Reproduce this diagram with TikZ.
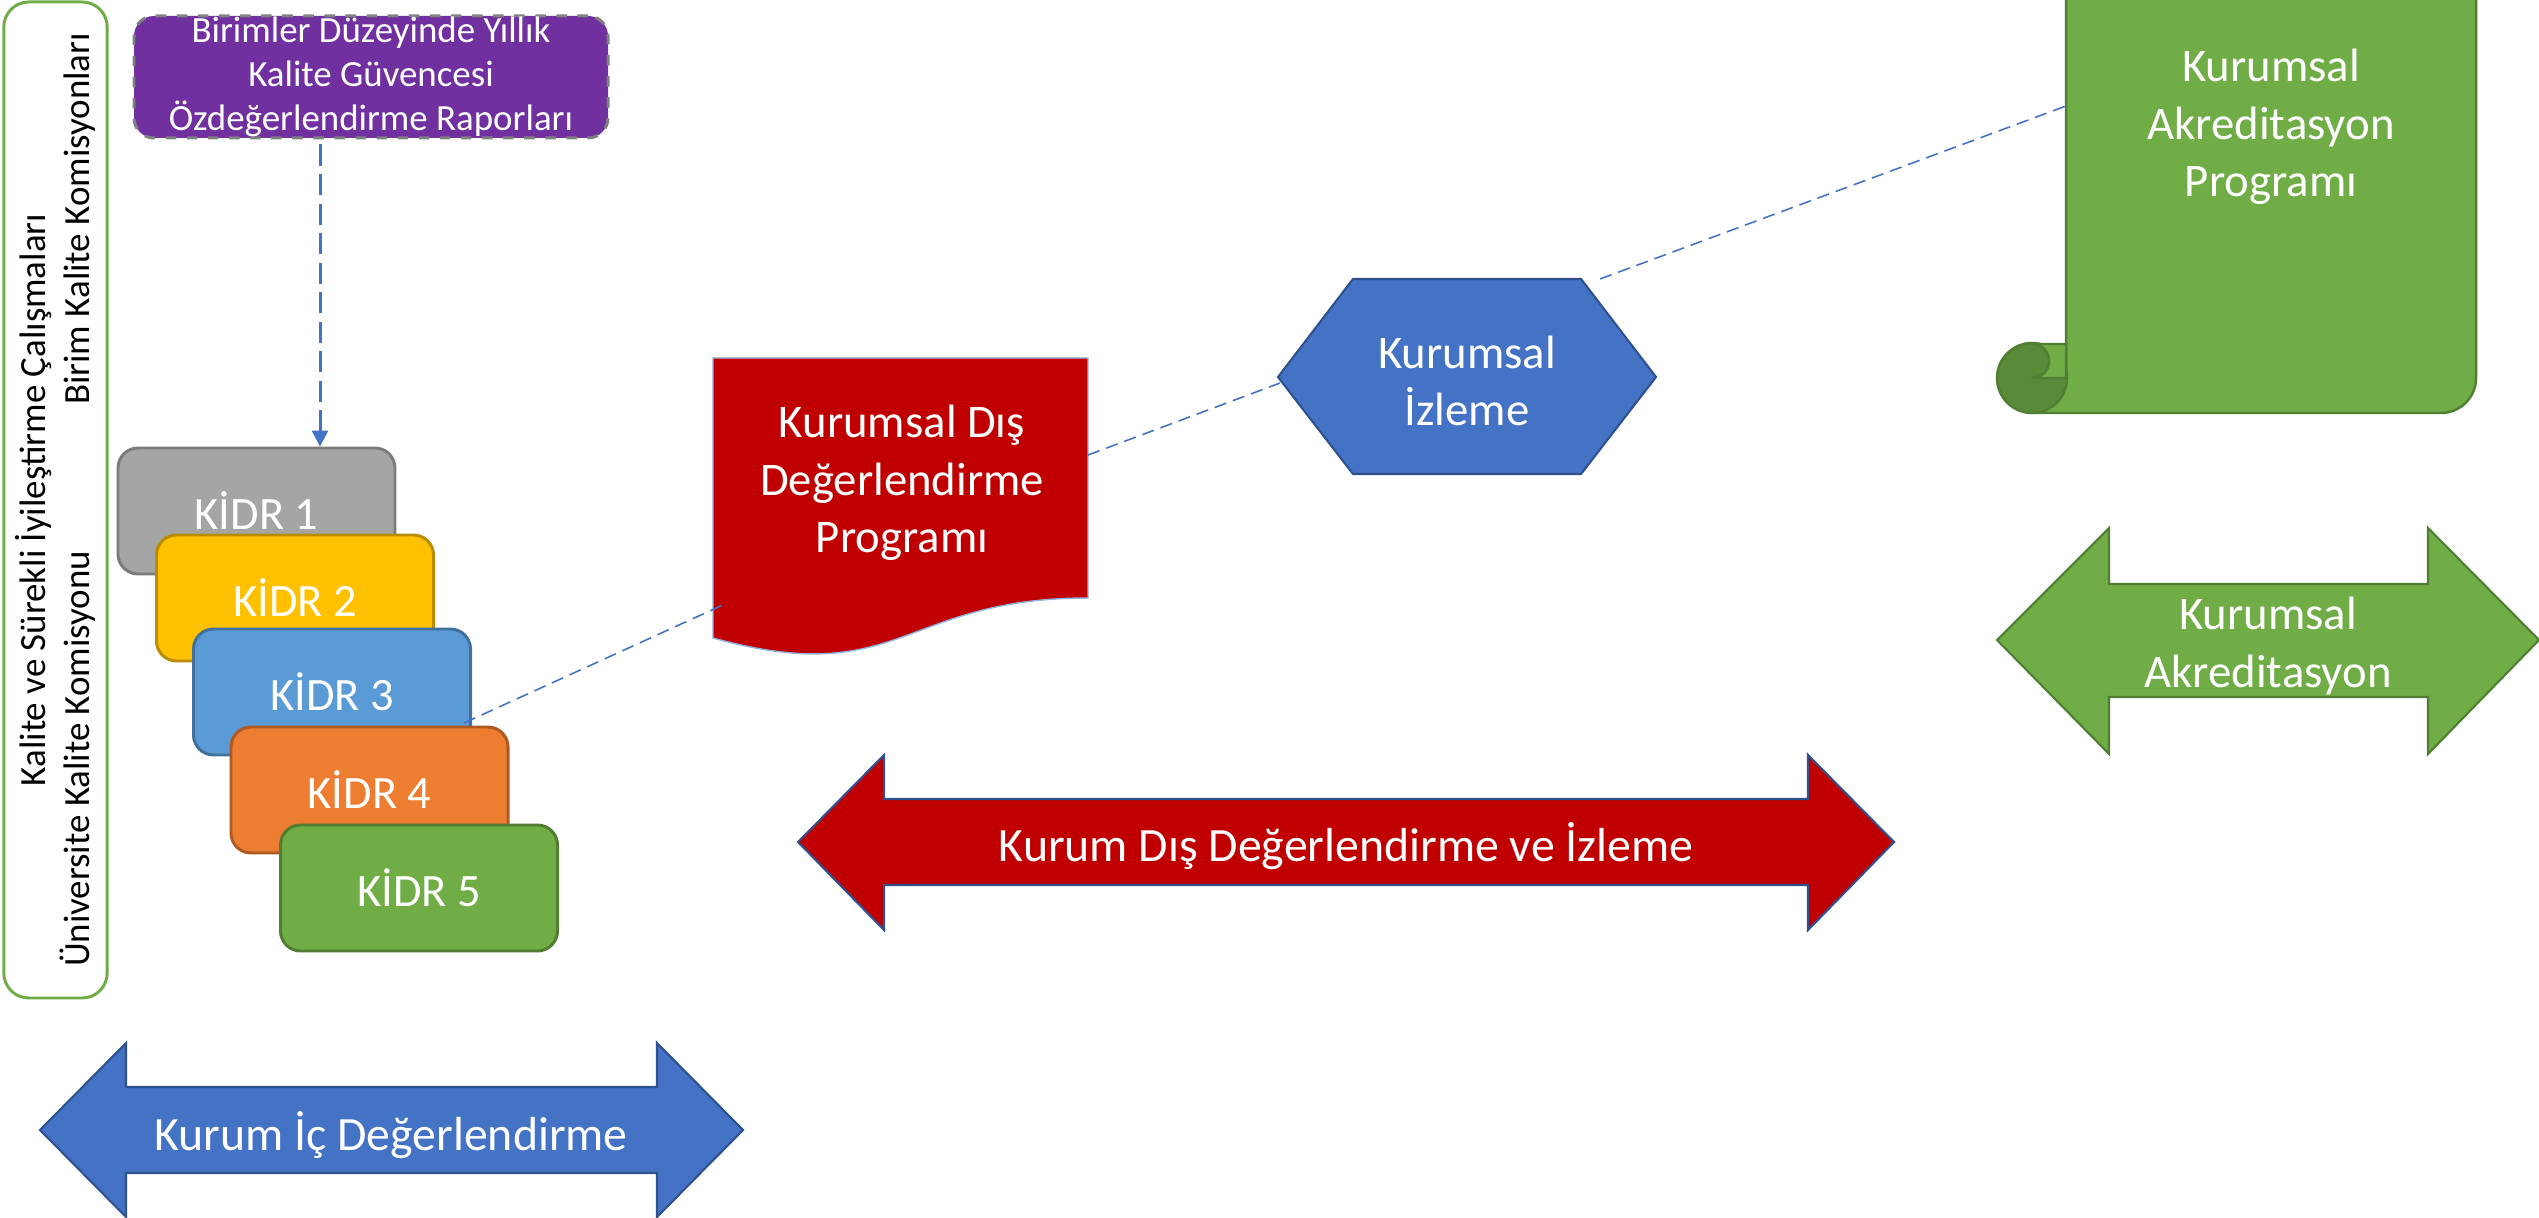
\documentclass[tikz,border=0pt]{standalone}
\usepackage{fontspec}
\setmainfont{Carlito}
\usetikzlibrary{arrows.meta}

\definecolor{mor}{HTML}{7030A0}
\definecolor{grikenar}{HTML}{808080}
\definecolor{mavi}{HTML}{4472C4}
\definecolor{koyumavi}{HTML}{2F528F}
\definecolor{acikmavi}{HTML}{8FB4E3}
\definecolor{kirmizi}{HTML}{C00000}
\definecolor{yesil}{HTML}{70AD47}
\definecolor{koyuyesil}{HTML}{507E32}
\definecolor{kivrim}{HTML}{588A37}

\begin{document}
\begin{tikzpicture}[x=0.1mm, y=-0.1mm,
    kidr/.style={draw, line width=0.85pt, rounded corners=2mm, minimum width=27.7mm,
        minimum height=12.6mm, text=white, font=\fontsize{13.2}{16}\selectfont},
    etiket/.style={text=white, align=center, font=\fontsize{13.3}{16.4}\selectfont},
    oketiket/.style={etiket, font=\fontsize{13.6}{16.4}\selectfont},
    okkenar/.style={line width=0.6pt},
    baglanti/.style={draw=mavi, line width=0.45pt, dash pattern=on 3.5pt off 2pt}]
    \useasboundingbox (0,0) rectangle (2539,1218);
    \clip (0,0) rectangle (2539,1218);

    % Marco lateral
    \node[rotate=90, draw=yesil, line width=0.85pt, rounded corners=2.5mm,
        minimum width=99.6mm, minimum height=10.1mm, align=center,
        font=\fontsize{10.5}{12.5}\selectfont] (cerceve) at (55.5,500)
        {Kalite ve Sürekli İyileştirme Çalışmaları\\
         Üniversite Kalite Komisyonu\hspace{14.6mm}Birim Kalite Komisyonları};

    % Informes de las unidades
    \node[fill=mor, draw=grikenar, dashed, line width=0.85pt, rounded corners=2mm,
        minimum width=47.4mm, minimum height=12.2mm, inner sep=0pt, text=white,
        align=center, font=\fontsize{10.5}{12.6}\selectfont] (raporlar) at (371,77)
        {Birimler Düzeyinde Yıllık\\Kalite Güvencesi\\Özdeğerlendirme Raporları};

    % Pila de KIDR
    \node[kidr, fill={rgb,255:red,165;green,165;blue,165}, draw={rgb,255:red,124;green,124;blue,124}] (kidr1) at (256.5,511) {KİDR 1};
    \node[kidr, fill={rgb,255:red,255;green,192;blue,0}, draw={rgb,255:red,188;green,140;blue,0}] (kidr2) at (295,598) {KİDR 2};
    \node[kidr, fill={rgb,255:red,91;green,155;blue,213}, draw={rgb,255:red,65;green,113;blue,156}] (kidr3) at (332,692) {KİDR 3};
    \node[kidr, fill={rgb,255:red,237;green,125;blue,49}, draw={rgb,255:red,174;green,90;blue,33}] (kidr4) at (369.5,790) {KİDR 4};
    \node[kidr, fill=yesil, draw=koyuyesil] (kidr5) at (419,888) {KİDR 5};

    % Flecha de los informes
    \draw[mavi, line width=0.85pt, dash pattern=on 6pt off 2.4pt, -{Triangle[width=4.5pt,length=4.5pt]}]
        ([xshift=-5.1mm,yshift=-0.5mm]raporlar.south) -- ([xshift=-5.1mm]raporlar.south |- kidr1.north);

    % Documento rojo
    \filldraw[fill=kirmizi, draw=acikmavi, line width=0.4pt]
        (713,358) -- (1088,358) -- (1088,598) .. controls (901,598) and (901,690) .. (713,638) -- cycle;
    \node[etiket] (dis) at (902,483) {Kurumsal Dış\\Değerlendirme\\Programı};
    \coordinate (dis-sol) at (725,604);
    \coordinate (dis-sag) at (1088,455);

    % Hexagono
    \filldraw[fill=mavi, draw=koyumavi, okkenar]
        (1278,377) -- (1353,279) -- (1581,279) -- (1656,377) -- (1581,474) -- (1353,474) -- cycle;
    \node[etiket] (izleme) at (1467,381) {Kurumsal\\İzleme};
    \coordinate (izleme-sol) at (1280,383);
    \coordinate (izleme-ust) at (1600,279);

    % Pergamino
    \filldraw[fill=yesil, draw=koyuyesil, line width=0.7pt]
        (2066,378) -- (2066,-60) -- (2476,-60) -- (2476,378) arc (0:90:35) -- (2032,413) -- (2032,378) -- cycle;
    \filldraw[fill=kivrim, draw=koyuyesil, line width=0.7pt] (2032,378) circle (35);
    \filldraw[fill=yesil, draw=koyuyesil, line width=0.7pt]
        (2032,378) arc (90:-90:17) -- (2066,344) -- (2066,378) -- cycle;
    \node[etiket] (akrprog) at (2271,127) {Kurumsal\\Akreditasyon\\Programı};
    \coordinate (akr-sol) at (2066,106);

    % Flechas dobles
    \filldraw[fill=kirmizi, draw=koyumavi, okkenar]
        (798,842) -- (884,755) -- (884,799) -- (1808,799) -- (1808,755) -- (1894,842)
        -- (1808,930) -- (1808,885) -- (884,885) -- (884,930) -- cycle;
    \node[oketiket] (disok) at (1346,846) {Kurum Dış Değerlendirme ve İzleme};

    \filldraw[fill=mavi, draw=koyumavi, okkenar]
        (40,1130) -- (126,1043) -- (126,1087) -- (657,1087) -- (657,1043) -- (743,1130)
        -- (657,1217) -- (657,1173) -- (126,1173) -- (126,1217) -- cycle;
    \node[oketiket] (icok) at (391,1135) {Kurum İç Değerlendirme};

    \filldraw[fill=yesil, draw=koyuyesil, okkenar]
        (1997,640) -- (2109,528) -- (2109,584) -- (2428,584) -- (2428,528) -- (2539,640)
        -- (2428,754) -- (2428,697) -- (2109,697) -- (2109,754) -- cycle;
    \node[etiket] (akrok) at (2268,646) {Kurumsal\\Akreditasyon};

    % Lineas de enlace
    \draw[baglanti] ([shift={(-8,31)}]kidr3.east) -- (dis-sol);
    \draw[baglanti] (dis-sag) -- (izleme-sol);
    \draw[baglanti] (izleme-ust) -- (akr-sol);
\end{tikzpicture}
\end{document}
